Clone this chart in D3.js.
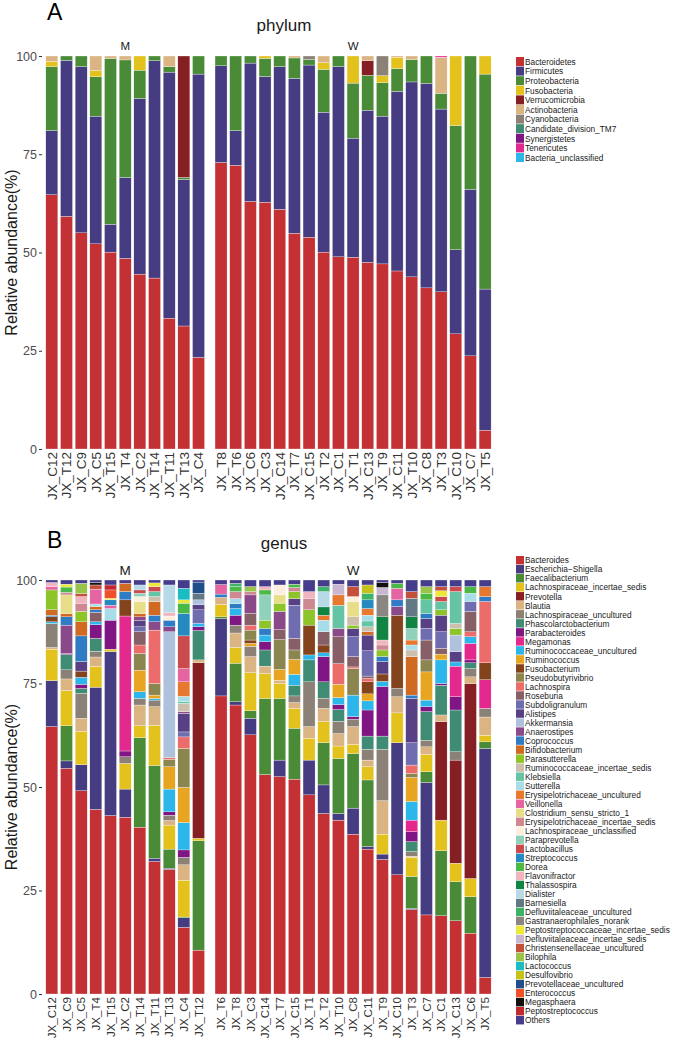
<!DOCTYPE html>
<html>
<head>
<meta charset="utf-8">
<script src="https://cdn.jsdelivr.net/npm/d3@7"></script>
<style>
  body { margin: 0; background: #fff; }
  text { font-family: "Liberation Sans", Arial, sans-serif; }
</style>
</head>
<body>
<svg id="chart" width="685" height="1041"></svg>
<script>
// ---------- phylum panel data ----------
const phylumNames = ["Bacteroidetes", "Firmicutes", "Proteobacteria", "Fusobacteria", "Verrucomicrobia",
  "Actinobacteria", "Cyanobacteria", "Candidate_division_TM7", "Synergistetes", "Tenericutes", "Bacteria_unclassified"];
const phylumColors = ["#c33134", "#463c82", "#498b37", "#e3c21e", "#861f23", "#dbb484", "#8b8176",
  "#408b73", "#7f1683", "#e3288e", "#2cb6ea"];

const phylumSamplesM = ["JX_C12", "JX_T12", "JX_C9", "JX_C5", "JX_T15", "JX_T4", "JX_C2", "JX_T14", "JX_T11", "JX_T13", "JX_C4"];
const phylumSamplesW = ["JX_T8", "JX_T6", "JX_C6", "JX_C3", "JX_C14", "JX_T7", "JX_C15", "JX_T2", "JX_C1", "JX_T1",
  "JX_C13", "JX_T9", "JX_C11", "JX_T10", "JX_C8", "JX_T3", "JX_C10", "JX_C7", "JX_T5"];

// one value per sample, in phylumSamplesM then phylumSamplesW order
const bacteroidetes = [64.7, 59.2, 55.0, 52.2, 50.1, 48.5, 44.5, 43.5, 33.3, 31.3, 23.3,
  72.9, 72.2, 63.0, 62.8, 61.0, 54.9, 53.9, 50.1, 48.9, 48.8, 47.5, 47.1, 45.3, 43.8, 41.0, 40.0, 29.3, 23.7, 4.8];
const firmicutes = [16.3, 39.7, 42.3, 32.5, 7.1, 20.6, 44.7, 55.3, 62.6, 37.3, 72.1,
  24.6, 8.8, 35.2, 32.0, 36.3, 39.4, 43.8, 35.6, 48.4, 30.3, 38.7, 37.6, 45.7, 49.6, 52.0, 46.5, 21.4, 42.4, 35.9];
const proteobacteria = [16.3, 1.1, 2.7, 10.0, 42.2, 29.9, 7.2, 1.2, 1.4, 0.5, 4.6,
  2.5, 19.0, 1.8, 4.6, 2.7, 5.2, 1.4, 10.9, 2.7, 14.0, 8.9, 8.5, 5.8, 5.7, 7.0, 4.0, 31.6, 33.9, 54.7];
const fusobacteria = [1.3, 0, 0, 1.6, 0, 0, 3.6, 0, 0, 0, 0,
  0, 0, 0, 0.6, 0, 0, 0, 1.7, 0, 6.9, 0, 1.8, 2.9, 0, 0, 0, 17.7, 0, 4.6];
const verrucomicrobia = [0, 0, 0, 0, 0, 0, 0, 0, 0, 30.9, 0,
  0, 0, 0, 0, 0, 0, 0, 0, 0, 0, 3.7, 0, 0, 0, 0, 0, 0, 0, 0];
const actinobacteria = [1.4, 0, 0, 3.7, 0.6, 1.0, 0, 0, 2.7, 0, 0,
  0, 0, 0, 0, 0, 0.5, 0, 1.7, 0, 0, 1.2, 0, 0.3, 0.9, 0, 9.2, 0, 0, 0];
const cyanobacteria = [0, 0, 0, 0, 0, 0, 0, 0, 0, 0, 0,
  0, 0, 0, 0, 0, 0, 0.9, 0, 0, 0, 0, 5.0, 0, 0, 0, 0, 0, 0, 0];
const tenericutes = [0, 0, 0, 0, 0, 0, 0, 0, 0, 0, 0,
  0, 0, 0, 0, 0, 0, 0, 0, 0, 0, 0, 0, 0, 0, 0, 0.3, 0, 0, 0];
const phylumSeries = {
  Bacteroidetes: bacteroidetes, Firmicutes: firmicutes, Proteobacteria: proteobacteria,
  Fusobacteria: fusobacteria, Verrucomicrobia: verrucomicrobia, Actinobacteria: actinobacteria,
  Cyanobacteria: cyanobacteria, Tenericutes: tenericutes
};

// ---------- genus panel data ----------
const genusNames = ["Bacteroides", "Escherichia\u2212Shigella", "Faecalibacterium", "Lachnospiraceae_incertae_sedis",
  "Prevotella", "Blautia", "Lachnospiraceae_uncultured", "Phascolarctobacterium", "Parabacteroides", "Megamonas",
  "Ruminococcaceae_uncultured", "Ruminococcus", "Fusobacterium", "Pseudobutyrivibrio", "Lachnospira", "Roseburia",
  "Subdoligranulum", "Alistipes", "Akkermansia", "Anaerostipes", "Coprococcus", "Bifidobacterium", "Parasutterella",
  "Ruminococcaceae_incertae_sedis", "Klebsiella", "Sutterella", "Erysipelotrichaceae_uncultured", "Veillonella",
  "Clostridium_sensu_stricto_1", "Erysipelotrichaceae_incertae_sedis", "Lachnospiraceae_unclassified", "Paraprevotella",
  "Lactobacillus", "Streptococcus", "Dorea", "Flavonifractor", "Thalassospira", "Dialister", "Barnesiella",
  "Defluviitaleaceae_uncultured", "Gastranaerophilales_norank", "Peptostreptococcaceae_incertae_sedis",
  "Defluviitaleaceae_incertae_sedis", "Christensenellaceae_uncultured", "Bilophila", "Lactococcus", "Desulfovibrio",
  "Prevotellaceae_uncultured", "Enterococcus", "Megasphaera", "Peptostreptococcus", "Others"];
const genusColors = ["#c33134", "#463c82", "#498b37", "#e3c21e", "#861f23", "#dbb484", "#8b8176", "#408b73",
  "#7f1683", "#e3288e", "#2cb6ea", "#e8a521", "#83431c", "#8b864f", "#ec6b6b", "#875f67", "#6f6db0", "#574184",
  "#afc2dd", "#8a4a8a", "#2f7bc4", "#d06a22", "#8dc429", "#cdbfae", "#65c4a3", "#a7dce9", "#e77830", "#e564a2",
  "#e8de8a", "#ce8892", "#fcefe0", "#8fd1ba", "#c94b4e", "#2789c2", "#4cb946", "#f1b5c0", "#118444", "#b7d9e8",
  "#627985", "#3db269", "#8a8681", "#ede93a", "#c9b7d2", "#c4503b", "#99c34a", "#1bbcc3", "#c5c21a", "#1f4e8a",
  "#ee512a", "#111111", "#c1282f", "#463c8c"];

const genusSamplesM = ["JX_C12", "JX_C9", "JX_C5", "JX_T4", "JX_T15", "JX_C2", "JX_T14", "JX_T11", "JX_T13", "JX_C4", "JX_T12"];
const genusSamplesW = ["JX_T6", "JX_T8", "JX_C3", "JX_C14", "JX_T7", "JX_C15", "JX_T1", "JX_T2", "JX_T10", "JX_C8",
  "JX_C11", "JX_T9", "JX_C10", "JX_T3", "JX_C7", "JX_C1", "JX_C13", "JX_C6", "JX_T5"];

// [genus index, relative abundance %] for each sample
const genusAbund = {
  JX_C12: [[0,64.6],[1,11.1],[3,7.6],[5,0.4],[6,5.8],[10,0.4],[12,1.2],[20,0.4],[21,1.3],[22,4.8],[27,0.8],[35,1.0],[51,0.6]],
  JX_C9: [[0,54.5],[1,1.8],[2,8.5],[3,8.5],[5,2.8],[6,2.2],[7,3.7],[8,0.3],[19,6.8],[20,2.0],[21,0.8],[28,4.5],[29,0.6],[34,1.3],[41,0.7],[51,1.0]],
  JX_C5: [[0,49.1],[1,6.3],[3,8.0],[5,3.2],[6,6.0],[7,1.2],[8,1.0],[10,1.7],[12,1.5],[17,2.3],[20,6.2],[21,3.4],[22,2.5],[29,2.0],[35,1.6],[43,0.7],[44,2.5],[51,0.8]],
  JX_T4: [[0,44.6],[1,29.5],[3,5.0],[5,2.3],[6,1.4],[7,3.1],[8,3.3],[10,0.7],[15,2.3],[20,0.6],[21,0.8],[25,0.6],[27,3.6],[43,1.0],[49,0.6],[51,0.6]],
  JX_T15: [[0,43.1],[1,39.6],[3,0.6],[8,7.0],[25,2.8],[27,0.8],[33,1.3],[41,0.4],[48,2.0],[50,1.2],[51,1.2]],
  JX_C2: [[0,42.7],[1,6.8],[3,6.2],[6,1.6],[8,1.4],[9,32.6],[12,3.9],[20,2.0],[21,2.0],[51,0.8]],
  JX_T14: [[0,40.3],[2,21.6],[3,2.9],[5,5.0],[6,1.6],[10,1.6],[11,5.2],[13,4.1],[14,2.0],[15,3.2],[16,1.2],[17,1.6],[19,0.8],[21,0.8],[28,2.9],[30,1.2],[31,0.8],[32,0.8],[37,1.2],[51,1.2]],
  JX_T11: [[0,32.0],[1,0.8],[2,22.4],[3,9.7],[5,4.5],[6,1.6],[10,0.4],[11,0.8],[13,2.8],[14,12.9],[19,2.0],[20,1.6],[21,3.3],[23,1.2],[24,1.2],[32,1.2],[41,0.9],[51,0.7]],
  JX_T13: [[0,30.1],[1,0.3],[2,4.6],[3,5.8],[5,1.1],[6,1.3],[8,0.8],[10,5.5],[11,5.4],[13,1.8],[14,0.4],[18,30.4],[19,1.2],[20,1.6],[30,1.0],[35,0.8],[37,6.7],[51,1.2]],
  JX_C4: [[0,16.1],[1,2.3],[2,0.2],[3,8.9],[5,3.7],[6,1.8],[8,1.8],[10,6.6],[11,8.5],[13,9.4],[14,2.8],[16,1.2],[17,4.5],[19,0.4],[23,2.0],[24,0.4],[25,1.3],[26,3.5],[27,3.2],[32,7.9],[33,5.4],[34,2.5],[41,0.8],[45,2.8],[51,2.0]],
  JX_T12: [[0,10.6],[2,26.4],[3,0.6],[4,42.4],[5,0.7],[7,7.1],[8,0.9],[10,0.8],[16,3.3],[17,1.2],[18,1.2],[38,1.6],[47,2.7],[51,0.5]],
  JX_T6: [[0,72.0],[1,18.7],[2,0.4],[3,3.0],[5,1.7],[20,0.8],[27,2.3],[51,1.1]],
  JX_T8: [[0,69.8],[1,0.8],[2,9.3],[3,3.8],[5,3.5],[6,1.9],[8,2.4],[10,1.6],[20,1.2],[25,1.2],[29,1.7],[34,1.2],[39,0.8],[51,0.8]],
  JX_C3: [[0,62.6],[1,4.0],[2,1.8],[3,9.2],[5,3.9],[6,2.5],[11,0.7],[12,0.8],[13,2.4],[14,1.2],[15,2.9],[19,4.4],[29,0.8],[44,1.2],[51,1.6]],
  JX_C14: [[0,53.0],[2,18.4],[3,6.0],[5,1.8],[7,3.9],[8,2.0],[10,1.6],[20,1.6],[22,2.0],[31,6.1],[34,1.2],[35,0.8],[51,1.6]],
  JX_T7: [[0,52.5],[1,4.0],[2,14.9],[3,3.6],[5,0.8],[11,2.6],[13,7.2],[15,2.4],[19,4.4],[22,2.0],[28,2.0],[30,2.4],[51,1.2]],
  JX_C15: [[0,51.9],[2,12.3],[3,4.8],[5,1.4],[6,1.6],[7,2.6],[10,2.6],[11,3.6],[13,2.3],[15,2.8],[16,8.0],[17,1.6],[22,1.7],[29,1.0],[34,0.8],[51,1.0]],
  JX_T1: [[0,48.1],[1,8.4],[3,5.3],[5,2.8],[6,10.8],[7,5.3],[10,1.2],[12,7.2],[22,3.7],[29,2.8],[35,1.6],[51,2.8]],
  JX_T2: [[0,43.6],[1,6.9],[2,10.2],[3,5.1],[5,3.2],[6,2.4],[7,4.0],[8,6.1],[10,0.9],[12,1.9],[15,3.2],[25,2.8],[26,1.2],[36,2.0],[37,3.7],[39,1.2],[51,1.6]],
  JX_T10: [[0,42.0],[1,1.6],[2,13.3],[3,3.0],[5,3.0],[6,3.0],[7,2.8],[8,1.2],[10,1.7],[11,3.2],[14,5.0],[15,6.5],[19,2.0],[24,5.6],[26,2.5],[42,2.6],[51,1.0]],
  JX_C8: [[0,38.6],[1,6.3],[2,13.2],[3,2.2],[5,4.3],[6,1.8],[8,0.6],[10,5.2],[13,6.4],[14,0.4],[15,2.5],[16,4.8],[17,2.0],[22,0.8],[23,2.0],[28,3.7],[30,1.2],[43,2.4],[51,1.6]],
  JX_C11: [[0,35.0],[1,0.6],[2,16.1],[3,3.2],[5,1.6],[6,2.6],[7,3.2],[8,6.3],[10,2.2],[11,1.7],[12,2.9],[14,0.8],[15,0.6],[16,6.1],[17,3.8],[21,0.8],[23,1.2],[24,1.4],[25,1.4],[26,1.6],[33,2.1],[39,1.6],[46,2.0],[51,1.2]],
  JX_T9: [[0,32.5],[1,1.3],[3,4.8],[5,8.1],[6,12.4],[7,3.2],[8,12.0],[10,1.2],[12,1.8],[17,3.0],[20,1.2],[22,1.6],[29,1.2],[35,1.2],[36,5.6],[40,5.3],[42,1.8],[49,1.2],[51,0.6]],
  JX_C10: [[0,28.8],[1,31.9],[3,7.2],[5,3.9],[6,2.0],[12,17.7],[19,2.1],[20,1.6],[27,2.8],[34,1.2],[51,0.8]],
  JX_T3: [[0,20.4],[1,0.3],[2,7.7],[3,4.6],[5,0.3],[6,1.1],[7,2.4],[8,2.4],[9,2.8],[10,4.5],[11,5.8],[13,1.0],[14,2.0],[16,5.4],[17,10.7],[20,0.8],[21,9.3],[23,1.6],[25,1.2],[26,1.2],[31,2.8],[36,2.8],[38,4.5],[43,1.6],[51,2.8]],
  JX_C7: [[0,19.1],[1,32.0],[2,2.6],[3,4.2],[5,1.8],[6,1.6],[7,6.9],[8,1.2],[10,1.6],[11,6.8],[13,2.9],[15,4.8],[16,2.8],[17,2.4],[20,1.2],[24,3.3],[34,1.6],[44,1.6],[51,1.6]],
  JX_C1: [[0,18.9],[2,15.7],[3,7.4],[4,23.8],[5,1.6],[7,7.2],[8,0.4],[10,5.7],[11,1.4],[15,1.4],[16,4.0],[17,4.0],[22,1.3],[24,2.0],[32,1.2],[41,1.4],[43,1.0],[51,1.6]],
  JX_C13: [[0,17.7],[2,9.4],[3,4.5],[4,24.9],[6,2.0],[7,10.1],[8,3.2],[9,7.4],[10,1.0],[17,2.5],[18,4.0],[22,1.6],[23,1.2],[24,7.7],[32,1.2],[51,1.6]],
  JX_C6: [[0,14.7],[2,8.8],[3,4.4],[4,47.1],[5,1.6],[6,2.0],[7,1.4],[8,0.7],[9,4.0],[10,1.6],[14,1.2],[15,4.9],[16,2.4],[25,2.0],[34,1.6],[51,1.6]],
  JX_T5: [[0,4.0],[1,55.3],[2,1.6],[3,1.6],[5,4.4],[6,2.1],[9,6.9],[12,4.1],[14,14.8],[20,1.2],[26,2.4],[51,1.6]]
};

const yTicks = [0, 25, 50, 75, 100];

// ---------- drawing ----------
const svg = d3.select("#chart");
const step = 14.67;

function phylumRow(s) {
  const all = phylumSamplesM.concat(phylumSamplesW);
  const i = all.indexOf(s);
  const row = { sample: s };
  phylumNames.forEach(n => { row[n] = phylumSeries[n] ? phylumSeries[n][i] : 0; });
  return row;
}

function genusRow(s) {
  const row = { sample: s };
  genusNames.forEach(n => { row[n] = 0; });
  genusAbund[s].forEach(([k, v]) => { row[genusNames[k]] = v; });
  return row;
}

function drawPanel(cfg) {
  const g = svg.append("g");
  const y = d3.scaleLinear().domain([0, 100]).range([cfg.yBottom, cfg.yTop]);
  const color = d3.scaleOrdinal().domain(cfg.keys).range(cfg.colors);

  cfg.facets.forEach(f => {
    const x = d3.scaleBand()
      .domain(f.samples)
      .range([f.x0, f.x0 + f.samples.length * step])
      .paddingInner(0.18)
      .paddingOuter(0.09);

    const series = d3.stack().keys(cfg.keys)(f.samples.map(cfg.row));

    g.append("g")
      .selectAll("g")
      .data(series)
      .join("g")
        .attr("fill", d => color(d.key))
      .selectAll("rect")
      .data(d => d.filter(p => p[1] - p[0] > 0))
      .join("rect")
        .attr("x", d => x(d.data.sample))
        .attr("width", x.bandwidth())
        .attr("y", d => y(d[1]))
        .attr("height", d => y(d[0]) - y(d[1]))
        .attr("stroke", "#fff")
        .attr("stroke-width", 0.3);

    // strip label
    g.append("text")
      .attr("x", (x.range()[0] + x.range()[1]) / 2)
      .attr("y", cfg.stripY)
      .attr("text-anchor", "middle")
      .attr("font-size", cfg.stripSize)
      .attr("fill", "#1a1a1a")
      .text(f.name);

    // x axis labels
    const ax = g.append("g")
      .attr("transform", `translate(0,${cfg.yBottom})`)
      .call(d3.axisBottom(x).tickSize(0));
    ax.select(".domain").remove();
    ax.selectAll("text")
      .attr("transform", "rotate(-90)")
      .attr("x", -3)
      .attr("y", 0)
      .attr("dy", "0.36em")
      .attr("text-anchor", "end")
      .attr("font-size", cfg.xLabelSize)
      .attr("font-family", null)
      .attr("fill", "#333");
  });

  // y axis
  const ay = g.append("g")
    .attr("transform", "translate(42,0)")
    .call(d3.axisLeft(y).tickValues(yTicks).tickSize(3).tickPadding(2));
  ay.select(".domain").remove();
  ay.selectAll("line").attr("stroke", "#333");
  ay.selectAll("text")
    .attr("font-size", cfg.yLabelSize)
    .attr("font-family", null)
    .attr("fill", "#4d4d4d");

  svg.append("text")
    .attr("transform", `translate(17,${(cfg.yBottom + cfg.yTop) / 2}) rotate(-90)`)
    .attr("text-anchor", "middle")
    .attr("font-size", 16)
    .attr("fill", "#1a1a1a")
    .text("Relative abundance(%)");

  // panel letter and title
  svg.append("text")
    .attr("x", 47).attr("y", cfg.letterY)
    .attr("font-size", 23)
    .attr("fill", "#000")
    .text(cfg.letter);
  svg.append("text")
    .attr("x", 284).attr("y", cfg.titleY)
    .attr("text-anchor", "middle")
    .attr("font-size", 17)
    .attr("fill", "#1a1a1a")
    .text(cfg.title);

  // legend
  const lg = svg.append("g").attr("transform", `translate(516,${cfg.legendTop})`);
  const items = lg.selectAll("g")
    .data(cfg.keys)
    .join("g")
      .attr("transform", (d, i) => `translate(0,${i * cfg.legendStep})`);
  items.append("rect")
    .attr("width", 8)
    .attr("height", cfg.legendStep - 0.6)
    .attr("fill", d => color(d));
  items.append("text")
    .attr("x", 9)
    .attr("y", cfg.legendStep / 2)
    .attr("dy", "0.35em")
    .attr("font-size", 8.3)
    .attr("fill", "#1a1a1a")
    .text(d => d);
}

drawPanel({
  keys: phylumNames, colors: phylumColors, row: phylumRow,
  facets: [
    { name: "M", samples: phylumSamplesM, x0: 44.5 },
    { name: "W", samples: phylumSamplesW, x0: 213.7 }
  ],
  yBottom: 449, yTop: 56, stripY: 50, stripSize: 11.5,
  xLabelSize: 13.5, yLabelSize: 12.5,
  letter: "A", letterY: 20, title: "phylum", titleY: 31,
  legendTop: 57, legendStep: 9.6
});

drawPanel({
  keys: genusNames, colors: genusColors, row: genusRow,
  facets: [
    { name: "M", samples: genusSamplesM, x0: 44.5 },
    { name: "W", samples: genusSamplesW, x0: 213.7 }
  ],
  yBottom: 994, yTop: 580, stripY: 575, stripSize: 13.5,
  xLabelSize: 11.6, yLabelSize: 12.5,
  letter: "B", letterY: 548, title: "genus", titleY: 549,
  legendTop: 556, legendStep: 9.02
});
</script>
</body>
</html>
